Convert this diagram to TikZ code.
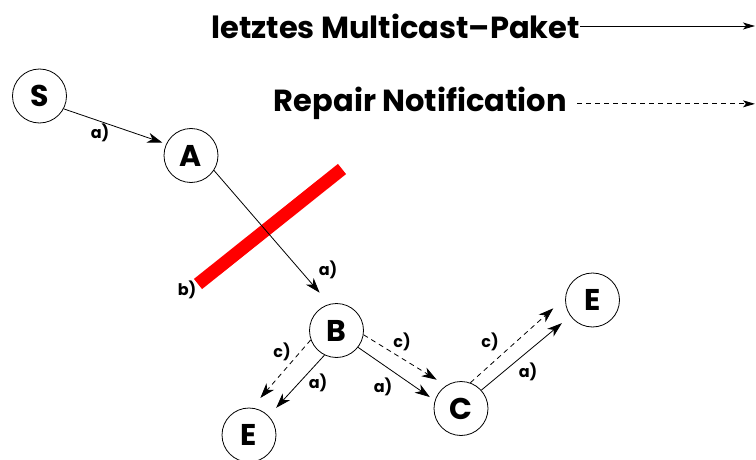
\documentclass[tikz,border=0pt]{standalone}
\usepackage{fontspec}
\setmainfont{Poppins}
\usepackage{tikz}
\usetikzlibrary{arrows.meta,positioning,calc}
\definecolor{barred}{RGB}{255,0,0}
\tikzset{
  host/.style={draw,circle,minimum size=54pt,inner sep=0pt,line width=0.8pt,
               font=\fontsize{30}{30}\selectfont\bfseries},
  flow/.style={-{Stealth[length=15pt,width=10pt,inset=4.5pt]},line width=0.8pt},
  flowd/.style={flow,dash pattern=on 5pt off 4pt},
  legflow/.style={-{Stealth[length=12pt,width=7pt,inset=3pt]},line width=0.9pt},
  lbl/.style={font=\fontsize{16}{16}\selectfont\bfseries,inner sep=1pt},
  legtxt/.style={font=\fontsize{30.5}{30.5}\selectfont\bfseries,inner sep=0pt},
  cutbar/.style={draw=barred,line width=13pt},
}
\begin{document}
\begin{tikzpicture}[x=1pt,y=1pt]
  \useasboundingbox (0,0) rectangle (756,459);

  % legend
  \node[legtxt,anchor=east] (last) at (580,433) {letztes Multicast--Paket};
  \node[legtxt,anchor=base east] (rep) at (567,347) {Repair Notification};
  \coordinate (leg1) at (755,433);
  \coordinate (leg2) at (755,355);
  \draw[legflow] (last.east) -- (last.east -| leg1);
  \draw[legflow,dash pattern=on 5pt off 4pt,shorten <=10pt] (rep.east) -- (rep.east -| leg2);

  % hosts
  \node[host] (S)  at (39.5,363)  {S};
  \node[host] (A)  at (191,303.5) {A};
  \node[host] (B)  at (336.5,128.5) {B};
  \node[host] (C)  at (461,50.5)  {C};
  \node[host] (E2) at (592.5,159) {E};
  \node[host] (E1) at (249,24)    {E};

  % broken link
  \draw[cutbar] (198,175) -- (342,290);
  \node[lbl] (lb) at (187,169) {b)};

  \draw[flow,shorten >=4pt]  (S.332) -- (A.155);
  \draw[flow,shorten >=15pt] (A.327) -- (B.105);
  \node[lbl] (la1) at (100,326) {a)};
  \node[lbl] (la2) at (328,189) {a)};

  \draw[flow,shorten >=11pt]  (B.244) -- (E1.44);
  \draw[flowd,shorten >=13pt] (B.200) -- (E1.84);
  \node[lbl] (lc1) at (282,107) {c)};
  \node[lbl] (la3) at (318,76)  {a)};

  \draw[flow,shorten >=6pt]   (B.322) -- (C.163);
  \draw[flowd,shorten >=11pt] (B.351) -- (C.123);
  \node[lbl] (lc2) at (402,117) {c)};
  \node[lbl] (la4) at (383,72)  {a)};

  \draw[flow,shorten >=11pt]  (C.42) -- (E2.216);
  \draw[flowd,shorten >=16pt] (C.70) -- (E2.175);
  \node[lbl] (lc3) at (490,117) {c)};
  \node[lbl] (la5) at (528,87)  {a)};
\end{tikzpicture}
\end{document}
